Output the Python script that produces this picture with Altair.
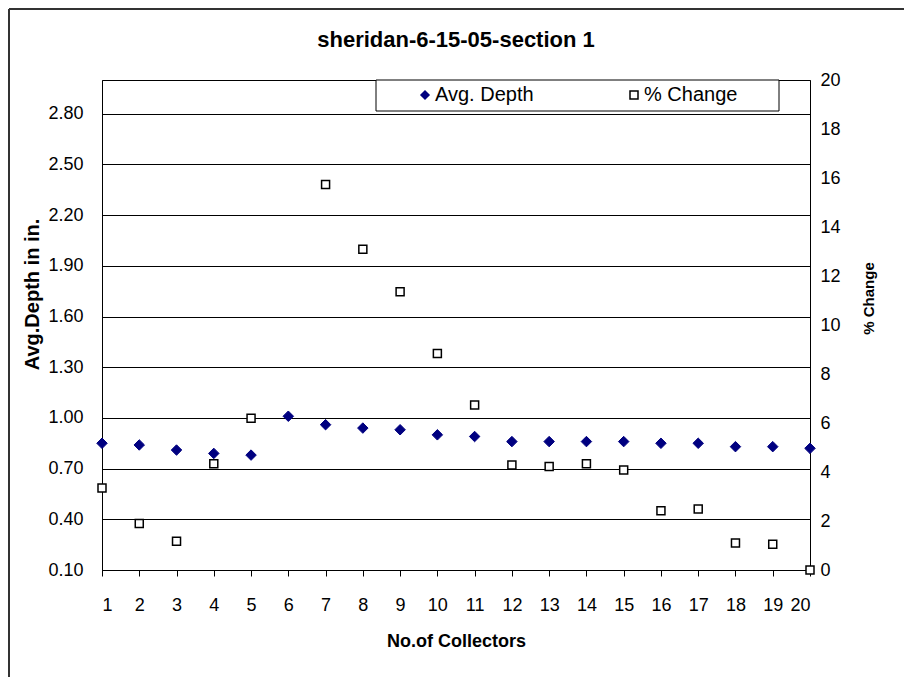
import altair as alt
import pandas as pd

collectors = list(range(1, 21))
avg_depth = [0.85, 0.84, 0.81, 0.79, 0.78, 1.01, 0.96, 0.94, 0.93, 0.90,
             0.89, 0.86, 0.86, 0.86, 0.86, 0.85, 0.85, 0.83, 0.83, 0.82]
pct_change = [3.35, 1.90, 1.17, 4.34, 6.19, None, 15.73, 13.09, 11.36, 8.84,
              6.73, 4.29, 4.22, 4.34, 4.08, 2.42, 2.49, 1.10, 1.05, 0.0]
series_names = ["Avg. Depth", "% Change"]
left_ticks = [0.10, 0.40, 0.70, 1.00, 1.30, 1.60, 1.90, 2.20, 2.50, 2.80]
right_ticks = [0, 2, 4, 6, 8, 10, 12, 14, 16, 18, 20]

rows = []
for c, d in zip(collectors, avg_depth):
    rows.append({"n": c, "series": "Avg. Depth", "v": d})
for c, p in zip(collectors, pct_change):
    if p is not None:
        rows.append({"n": c, "series": "% Change", "v": p})
df = pd.DataFrame(rows)

FONT = "Liberation Sans"
W, H = 708, 490

legend = alt.Legend(
    title=None, orient="none", legendX=313, legendY=5, direction="horizontal",
    columnPadding=90, symbolSize=64, symbolStrokeWidth=1.5, labelFontSize=20,
    labelFont=FONT, labelColor="black", labelOffset=0, padding=0,
)
fill = alt.Fill("series:N", scale=alt.Scale(domain=series_names, range=["#000080", "white"]), legend=legend)
stroke = alt.Stroke("series:N", scale=alt.Scale(domain=series_names, range=["#000080", "black"]), legend=legend)
shape = alt.Shape("series:N", scale=alt.Scale(domain=series_names, range=["diamond", "square"]), legend=legend)

x_enc = alt.X(
    "n:Q",
    scale=alt.Scale(domain=[1, 20], nice=False, zero=False),
    axis=alt.Axis(values=collectors, title="No.of Collectors", tickSize=6, labelPadding=20,
                  titlePadding=18, grid=False, labelFontSize=18, titleFontSize=18,
                  titleFontWeight="bold", domainColor="black", tickColor="black"),
)

base = alt.Chart(df)

depth_layer = base.transform_filter(alt.datum.series == "Avg. Depth").mark_point(
    size=110, filled=True, opacity=1, strokeWidth=1
).encode(
    x=x_enc,
    y=alt.Y("v:Q", scale=alt.Scale(domain=[0.1, 3.0], nice=False, zero=False),
            axis=alt.Axis(values=left_ticks, format=".2f", title="Avg.Depth in in.", orient="left",
                          grid=True, gridColor="black", gridWidth=1, tickSize=0, labelPadding=19,
                          titlePadding=5, labelFontSize=18, titleFontSize=20, titleFontWeight="bold",
                          titleY=214, domainColor="black")),
    fill=fill, stroke=stroke, shape=shape,
)

pct_layer = base.transform_filter(alt.datum.series == "% Change").mark_point(
    size=64, opacity=1, strokeWidth=1.5
).encode(
    x=x_enc,
    y=alt.Y("v:Q", scale=alt.Scale(domain=[0, 20], nice=False, zero=False),
            axis=alt.Axis(values=right_ticks, title="% Change", orient="right", grid=False,
                          tickSize=0, labelPadding=10, titlePadding=36, labelFontSize=18,
                          titleFontSize=15, titleFontWeight="bold", titleAngle=270,
                          titleY=218, domainColor="black")),
    fill=fill, stroke=stroke, shape=shape,
)

deco = pd.DataFrame({"k": [0]})
legend_box = alt.Chart(deco).mark_rect(fill="white", stroke="black", strokeWidth=1).encode(
    x=alt.value(274), x2=alt.value(677), y=alt.value(0), y2=alt.value(31)
)
frame = alt.Chart(deco).mark_rule(stroke="#333333", strokeWidth=2).encode(
    x=alt.value(-93), x2=alt.value(-93), y=alt.value(-71), y2=alt.value(620)
)
frame_top = alt.Chart(deco).mark_rule(stroke="#333333", strokeWidth=2).encode(
    x=alt.value(-93), x2=alt.value(820), y=alt.value(-71), y2=alt.value(-71)
)

chart = alt.layer(legend_box, depth_layer, pct_layer, frame, frame_top).resolve_scale(
    y="independent"
).properties(
    width=W, height=H,
    title=alt.Title("sheridan-6-15-05-section 1", fontSize=22, font=FONT, fontWeight="bold",
                    anchor="middle", frame="group", offset=-44, color="black"),
    autosize=alt.AutoSizeParams(type="none"),
    padding={"left": 94, "top": 72, "right": 94, "bottom": 107},
).configure(
    font=FONT, background="white"
).configure_view(
    stroke="black", strokeWidth=1
).configure_axis(
    labelFont=FONT, titleFont=FONT, labelColor="black", titleColor="black"
)

chart.save("out.html", embed_options={"renderer": "svg", "actions": False})
